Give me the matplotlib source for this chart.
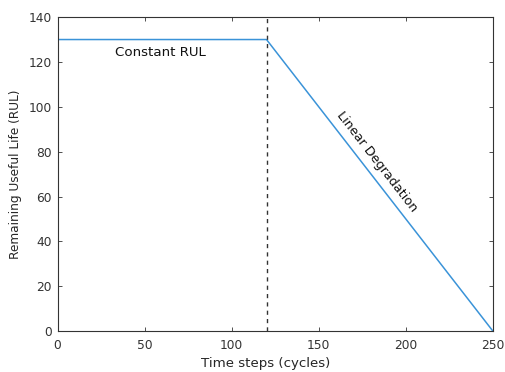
import matplotlib
matplotlib.use("Agg")
import matplotlib.pyplot as plt
import numpy as np

time_steps = [0, 120, 250]
rul_values = [130, 130, 0]
knee_x = 120
x_ticks = [0, 50, 100, 150, 200, 250]
y_ticks = [0, 20, 40, 60, 80, 100, 120, 140]

plt.rcParams['font.family'] = ['Verdana', 'DejaVu Sans']
fig = plt.figure(figsize=(5.05, 3.72), dpi=100)
ax = fig.add_axes([0.114, 0.110, 0.862, 0.844])

ax.plot(time_steps, rul_values, color='#3A93D8', lw=1.1)
ax.axvline(knee_x, color='#333333', ls=(0, (3, 3)), lw=1.0)

ax.set_xlim(0, 250)
ax.set_ylim(0, 140)
ax.set_xticks(x_ticks)
ax.set_yticks(y_ticks)
ax.tick_params(direction='in', top=True, right=True, labelsize=8.8, colors='#333333', length=3, width=0.6)
ax.tick_params(axis='x', pad=5.5)
ax.tick_params(axis='y', pad=4)
for s in ax.spines.values():
    s.set_color('#333333')
    s.set_linewidth(0.8)

ax.set_xlabel('Time steps (cycles)', fontsize=9.6, color='#262626', labelpad=4)
ax.xaxis.set_label_coords(0.479, -0.083, transform=ax.transAxes)
ax.xaxis.label.set_va('top')
ax.set_ylabel('Remaining Useful Life (RUL)', fontsize=8.7, color='#262626', labelpad=5)

ax.text(58.8, 124, 'Constant RUL', fontsize=9.6, ha='center', va='center', color='#111111')

# rotation along the line in display coordinates
p1 = ax.transData.transform((time_steps[1], rul_values[1]))
p2 = ax.transData.transform((time_steps[2], rul_values[2]))
ang = np.degrees(np.arctan2(p2[1] - p1[1], p2[0] - p1[0]))
ax.text(183.4, 75.3, 'Linear Degradation', fontsize=9.2, ha='center', va='center',
        rotation=ang, rotation_mode='anchor', color='#111111')

fig.savefig('out.png', dpi=100)
